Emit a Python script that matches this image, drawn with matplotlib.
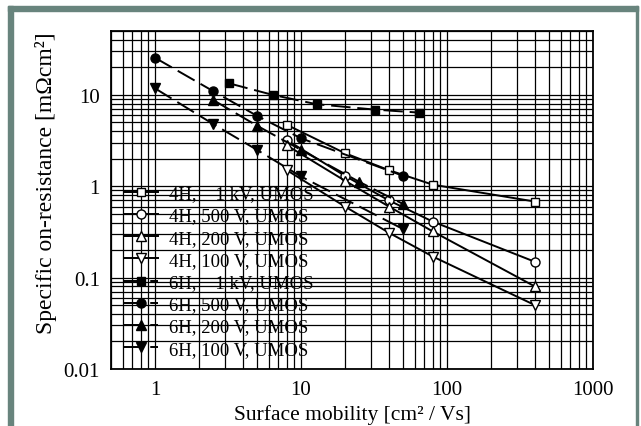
import matplotlib
matplotlib.use("Agg")
import matplotlib.pyplot as plt
from matplotlib.patches import Rectangle
from matplotlib.ticker import LogLocator, NullFormatter

plt.rcParams["font.family"] = ["Liberation Serif", "DejaVu Serif"]

# surface mobility [cm^2/Vs] and specific on-resistance [mOhm cm^2]
mu_4h = [8, 20, 40, 80, 400]
ron_4h_1kv = [4.7, 2.3, 1.5, 1.04, 0.68]
ron_4h_500v = [3.2, 1.3, 0.7, 0.41, 0.149]
ron_4h_200v = [2.8, 1.15, 0.6, 0.32, 0.08]
ron_4h_100v = [1.5, 0.6, 0.31, 0.17, 0.05]

mu_6h_1kv = [3.2, 6.4, 12.8, 32, 64]
ron_6h_1kv = [13.4, 10.0, 7.9, 6.9, 6.4]
mu_6h_500v = [1, 2.5, 5, 10, 50]
ron_6h_500v = [25.5, 11.0, 5.9, 3.35, 1.3]
mu_6h_200v = [2.5, 5, 10, 25, 50]
ron_6h_200v = [8.8, 4.6, 2.5, 1.12, 0.64]
mu_6h_100v = [1, 2.5, 5, 10, 50]
ron_6h_100v = [11.8, 4.8, 2.5, 1.28, 0.34]

x_ticks = [1, 10, 100, 1000]
x_tick_labels = ["1", "10", "100", "1000"]
y_ticks = [0.01, 0.1, 1, 10]
y_tick_labels = ["0.01", "0.1", "1", "10"]

series = [
    (mu_4h, ron_4h_1kv, "s", "white", "-", "4H,    1 kV, UMOS"),
    (mu_4h, ron_4h_500v, "o", "white", "-", "4H, 500 V, UMOS"),
    (mu_4h, ron_4h_200v, "^", "white", "-", "4H, 200 V, UMOS"),
    (mu_4h, ron_4h_100v, "v", "white", "-", "4H, 100 V, UMOS"),
    (mu_6h_1kv, ron_6h_1kv, "s", "black", "--", "6H,    1 kV, UMOS"),
    (mu_6h_500v, ron_6h_500v, "o", "black", "--", "6H, 500 V, UMOS"),
    (mu_6h_200v, ron_6h_200v, "^", "black", "--", "6H, 200 V, UMOS"),
    (mu_6h_100v, ron_6h_100v, "v", "black", "--", "6H, 100 V, UMOS"),
]
msize = {"s": 5.5, "o": 6.5, "^": 6.5, "v": 6.5}

fig = plt.figure(figsize=(6.41, 4.27), dpi=100)
fig.patch.set_facecolor("white")

# grey-green frame round the figure
frame_c = "#68847d"
W, H = 641, 427
for (x0, y0, w, h) in [(8, 7, 5, 420), (8, 7, 630, 4.5), (636, 7, 2, 420)]:
    fig.patches.append(Rectangle((x0 / W, 1 - (y0 + h) / H), w / W, h / H,
                                 transform=fig.transFigure, color=frame_c,
                                 zorder=0))

ax = fig.add_axes([111 / W, 57 / H, 482 / W, 338 / H])
ax.set_xscale("log")
ax.set_yscale("log")
ax.set_xlim(0.5, 1000)
ax.set_ylim(0.01, 50)

for x, y, m, fc, ls, lab in series:
    line, = ax.plot(x, y, linestyle=ls, color="black", lw=1.4,
                    marker=m, markersize=msize[m], markerfacecolor=fc,
                    markeredgecolor="black", markeredgewidth=1.0,
                    label=lab, zorder=3)
    if ls == "--":
        line.set_dashes((10, 3.5))

ax.set_xticks(x_ticks, labels=x_tick_labels)
ax.set_yticks(y_ticks, labels=y_tick_labels)
for axis in (ax.xaxis, ax.yaxis):
    axis.set_minor_locator(LogLocator(base=10, subs=range(2, 10), numticks=20))
    axis.set_minor_formatter(NullFormatter())
ax.tick_params(which="both", length=0, labelsize=15, pad=8)
ax.grid(True, which="both", color="black", lw=0.9)
for sp in ax.spines.values():
    sp.set_linewidth(1.3)

ax.set_xlabel("Surface mobility [cm² / Vs]", fontsize=15.5)
ax.set_ylabel("Specific on-resistance [mΩcm²]", fontsize=17)
ax.yaxis.set_label_coords(-0.113, 0.553)
ax.xaxis.set_label_coords(0.5, -0.105)

leg = ax.legend(loc="upper left", bbox_to_anchor=(0.012, 0.566),
                frameon=False, fontsize=13.5, handlelength=1.8,
                handletextpad=0.6, labelspacing=0.27, borderaxespad=0)

fig.savefig("out.png", dpi=100)
